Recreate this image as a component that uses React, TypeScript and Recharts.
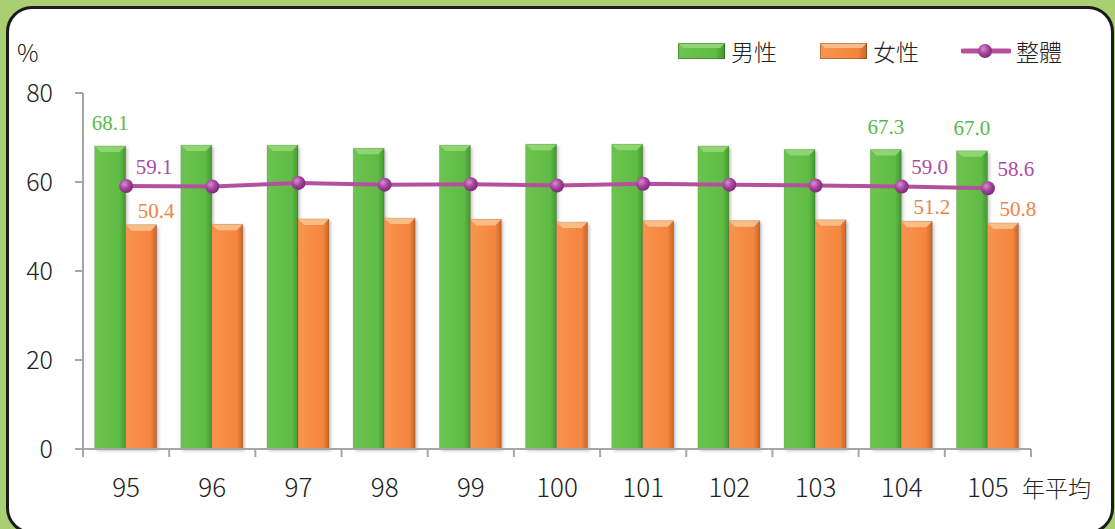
import React from 'react';
import { ComposedChart, Bar, Line, XAxis, YAxis, LabelList } from 'recharts';

const years = ['95', '96', '97', '98', '99', '100', '101', '102', '103', '104', '105'];
const male = [68.1, 68.3, 68.3, 67.6, 68.3, 68.5, 68.5, 68.1, 67.3, 67.3, 67.0];
const female = [50.4, 50.5, 51.7, 51.9, 51.6, 51.0, 51.3, 51.3, 51.5, 51.2, 50.8];
const overall = [59.1, 59.0, 59.8, 59.4, 59.5, 59.2, 59.6, 59.4, 59.2, 59.0, 58.6];
const yTicks = [0, 20, 40, 60, 80];
const seriesNames = ['男性', '女性', '整體'];
const labeledIdx = [0, 9, 10];
const xUnit = '年平均';
const yUnit = '%';

const data = years.map((y, i) => ({ year: y, male: male[i], female: female[i], overall: overall[i] }));

const GREEN = { main: 'url(#gMain)', top: '#93d777', label: '#5cb949' };
const ORANGE = { main: 'url(#oMain)', top: '#fcc28e', label: '#f0843e' };
const PURPLE = '#b4519f';
const PURPLE_LABEL = '#ad4a9e';
const AXIS = '#a6a6a6';
const SANS = '"Noto Sans CJK TC", "Noto Sans", sans-serif';
const SERIF = '"Liberation Serif", "DejaVu Serif", serif';
const TICK_SIZE = 8;
const X_TICK_MARGIN = 22;

const makeBar = (c: { main: string; top: string }) => (props: any) => {
  const { x, y, width, height } = props;
  if (!height || height <= 0) return <g />;
  const b = Math.min(6, height / 2);
  return (
    <g>
      <rect x={x + 2} y={y + 2} width={width} height={height} fill="rgba(0,0,0,0.22)" filter="url(#shadowBlur)" />
      <rect x={x} y={y} width={width} height={height} fill={c.main} />
      <polygon points={`${x},${y} ${x + width},${y} ${x + width - b},${y + b} ${x + b},${y + b}`} fill={c.top} opacity={0.9} />
      <rect x={x} y={y} width={width} height={height} fill="none" stroke="rgba(0,0,0,0.12)" strokeWidth={1} />
    </g>
  );
};

const GreenBar = makeBar(GREEN);
const OrangeBar = makeBar(ORANGE);

const Dot = (props: any) => {
  const { cx, cy } = props;
  if (cx == null || cy == null) return <g />;
  return <circle cx={cx} cy={cy} r={7} fill="url(#dotGrad)" />;
};

const maleLabel = (props: any) => {
  const { x, y, width, value, index } = props;
  if (!labeledIdx.includes(index)) return null;
  return (
    <text x={x + width / 2} y={y - 16} textAnchor="middle" fontFamily={SERIF} fontSize={21} fill={GREEN.label}>
      {Number(value).toFixed(1)}
    </text>
  );
};

const femaleLabel = (props: any) => {
  const { x, y, width, value, index } = props;
  if (!labeledIdx.includes(index)) return null;
  return (
    <text x={x + width / 2 + 15} y={y - 7} textAnchor="middle" fontFamily={SERIF} fontSize={21} fill={ORANGE.label}>
      {Number(value).toFixed(1)}
    </text>
  );
};

const overallLabel = (props: any) => {
  const { x, y, value, index } = props;
  if (!labeledIdx.includes(index)) return null;
  return (
    <text x={x + 28} y={y - 12} textAnchor="middle" fontFamily={SERIF} fontSize={21} fill={PURPLE_LABEL}>
      {Number(value).toFixed(1)}
    </text>
  );
};

const XTick = (props: any) => {
  const { x, y, payload, index, visibleTicksCount } = props;
  const half = payload && typeof payload.offset === 'number' ? payload.offset : 43;
  const axisY = y - TICK_SIZE - X_TICK_MARGIN;
  const isLast = index === (visibleTicksCount ?? years.length) - 1;
  return (
    <g>
      <line x1={x - half} x2={x - half} y1={axisY} y2={axisY + TICK_SIZE} stroke={AXIS} strokeWidth={2} />
      {isLast && <line x1={x + half} x2={x + half} y1={axisY} y2={axisY + TICK_SIZE} stroke={AXIS} strokeWidth={2} />}
      <text x={x} y={y} dy="0.71em" textAnchor="middle" fontFamily={SANS} fontWeight={300} fontSize={26} fill="#222">
        {payload.value}
      </text>
    </g>
  );
};

const LegendSwatch = ({ kind }: { kind: number }) => {
  if (kind === 2) {
    return (
      <svg width={50} height={18} style={{ display: 'block' }}>
        <line x1={2} x2={48} y1={9} y2={9} stroke={PURPLE} strokeWidth={5} strokeLinecap="round" />
        <circle cx={24} cy={9} r={7} fill="url(#dotGrad)" />
      </svg>
    );
  }
  const c = kind === 0 ? GREEN : ORANGE;
  return (
    <svg width={47} height={16} style={{ display: 'block' }}>
      <rect x={0} y={0} width={47} height={16} fill={c.main} />
      <polygon points="0,0 47,0 42,5 5,5" fill={c.top} opacity={0.9} />
      <rect x={0.5} y={0.5} width={46} height={15} fill="none" stroke="rgba(0,0,0,0.25)" />
    </svg>
  );
};

export default function App() {
  return (
    <div style={{ position: 'absolute', left: 0, top: 0, width: 1115, height: 529, overflow: 'hidden', background: '#a9cf72' }}>
      <svg width={0} height={0} style={{ position: 'absolute' }}>
        <defs>
          <linearGradient id="gMain" x1="0" y1="0" x2="1" y2="0">
            <stop offset="0" stopColor="#6cc44f" />
            <stop offset="0.8" stopColor="#60bb45" />
            <stop offset="1" stopColor="#42982f" />
          </linearGradient>
          <linearGradient id="oMain" x1="0" y1="0" x2="1" y2="0">
            <stop offset="0" stopColor="#f8944f" />
            <stop offset="0.8" stopColor="#f4863f" />
            <stop offset="1" stopColor="#c96528" />
          </linearGradient>
          <radialGradient id="dotGrad" cx="0.38" cy="0.35" r="0.65">
            <stop offset="0" stopColor="#d88bcf" />
            <stop offset="0.55" stopColor="#a4449d" />
            <stop offset="1" stopColor="#7d2a78" />
          </radialGradient>
          <filter id="shadowBlur" x="-20%" y="-20%" width="140%" height="140%">
            <feGaussianBlur stdDeviation="1.5" />
          </filter>
        </defs>
      </svg>
      <div
        style={{
          position: 'absolute',
          left: 6,
          top: 6,
          width: 1108,
          height: 528,
          boxSizing: 'border-box',
          border: '3.5px solid #1b1b1b',
          borderRadius: 26,
          background: '#fff',
        }}
      />
      <div style={{ position: 'absolute', left: 0, top: 0 }}>
        <ComposedChart
          width={1115}
          height={529}
          data={data}
          margin={{ top: 93, right: 84, bottom: 30, left: 0 }}
          barCategoryGap="13.5%"
          barGap={0}
        >
          <XAxis
            dataKey="year"
            height={50}
            axisLine={{ stroke: AXIS, strokeWidth: 2 }}
            tickLine={false}
            tickSize={TICK_SIZE}
            tickMargin={X_TICK_MARGIN}
            tick={<XTick />}
            interval={0}
            label={(p: any) => {
              const vb = p.viewBox || {};
              return (
                <text x={(vb.x ?? 83) + (vb.width ?? 948) - 9} y={(vb.y ?? 449) + 48} fontFamily={SANS} fontWeight={300} fontSize={23} fill="#222">
                  {xUnit}
                </text>
              );
            }}
          />
          <YAxis
            width={83}
            domain={[0, 80]}
            ticks={yTicks}
            interval={0}
            axisLine={{ stroke: AXIS, strokeWidth: 2 }}
            tickLine={{ stroke: AXIS, strokeWidth: 2 }}
            tickSize={TICK_SIZE}
            tickMargin={22}
            tick={{ fontFamily: SANS, fontWeight: 300, fontSize: 25, fill: '#222' }}
            label={() => (
              <text x={17} y={62} fontFamily={SANS} fontWeight={300} fontSize={24} fill="#222">
                {yUnit}
              </text>
            )}
          />
          <Bar dataKey="male" name={seriesNames[0]} shape={GreenBar} isAnimationActive={false}>
            <LabelList dataKey="male" content={maleLabel} />
          </Bar>
          <Bar dataKey="female" name={seriesNames[1]} shape={OrangeBar} isAnimationActive={false}>
            <LabelList dataKey="female" content={femaleLabel} />
          </Bar>
          <Line
            dataKey="overall"
            name={seriesNames[2]}
            type="linear"
            stroke={PURPLE}
            strokeWidth={4}
            dot={<Dot />}
            activeDot={false}
            isAnimationActive={false}
          >
            <LabelList dataKey="overall" content={overallLabel} />
          </Line>
        </ComposedChart>
      </div>
      <div
        style={{
          position: 'absolute',
          left: 678,
          top: 36,
          height: 30,
          display: 'flex',
          alignItems: 'center',
          fontFamily: SANS,
          fontWeight: 300,
          fontSize: 23,
          color: '#222',
          whiteSpace: 'nowrap',
        }}
      >
        {seriesNames.map((n, i) => (
          <div key={n} style={{ display: 'flex', alignItems: 'center', marginRight: i === 0 ? 43 : 42 }}>
            <LegendSwatch kind={i} />
            <span style={{ marginLeft: i === 2 ? 5 : 6, lineHeight: '30px' }}>{n}</span>
          </div>
        ))}
      </div>
    </div>
  );
}
